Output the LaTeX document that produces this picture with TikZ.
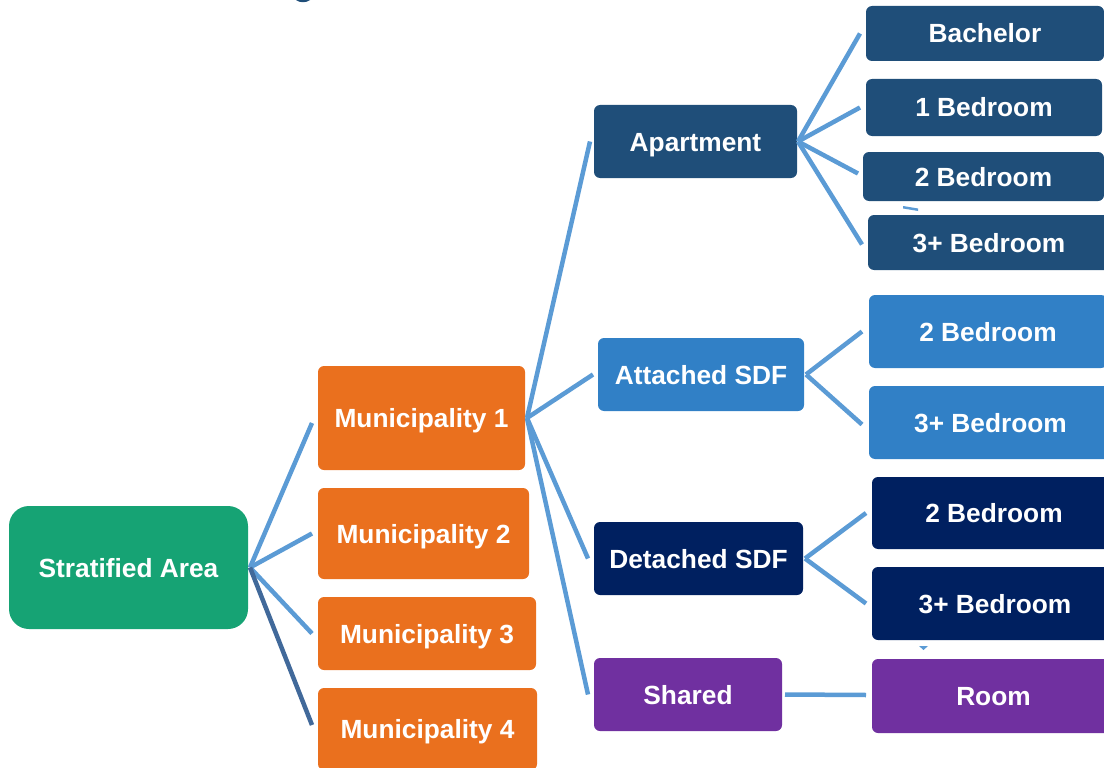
\documentclass[tikz,border=0pt]{standalone}
\usepackage{fontspec}
\setmainfont{Liberation Sans}
\definecolor{cgreen}{HTML}{16A374}
\definecolor{corange}{HTML}{EA701E}
\definecolor{capt}{HTML}{1F4E79}
\definecolor{catt}{HTML}{3180C6}
\definecolor{cdet}{HTML}{002060}
\definecolor{cpur}{HTML}{7030A0}
\definecolor{clink}{HTML}{5B9BD5}
\definecolor{cdark}{HTML}{41699A}
\tikzset{
  box/.style={rectangle, rounded corners=6pt, inner sep=0pt, outer sep=0pt, text=white,
    font=\fontsize{26.3}{30}\selectfont\bfseries, text height=22pt, text depth=3pt},
  link/.style={draw=clink, line width=4.5pt},
  darklink/.style={draw=cdark, line width=4.5pt},
}
\begin{document}
\begin{tikzpicture}[x=1pt,y=-1pt]
\useasboundingbox (0,0) rectangle (1104,768);
% nodes
\node[box, fill=cgreen, rounded corners=20pt, minimum width=239pt, minimum height=123pt] (sa) at (128.5,567.5) {Stratified Area};
\node[box, fill=corange, minimum width=207pt, minimum height=104pt] (m1) at (421.5,418) {Municipality 1};
\node[box, fill=corange, minimum width=211pt, minimum height=91pt] (m2) at (423.5,533.5) {Municipality 2};
\node[box, fill=corange, minimum width=218pt, minimum height=73pt] (m3) at (427,633.5) {Municipality 3};
\node[box, fill=corange, minimum width=219pt, minimum height=82pt] (m4) at (427.5,729) {Municipality 4};
\node[box, fill=capt, minimum width=203pt, minimum height=73pt] (apt) at (695.5,141.5) {Apartment};
\node[box, fill=catt, minimum width=206pt, minimum height=73pt] (att) at (701,374.5) {Attached SDF};
\node[box, fill=cdet, minimum width=209pt, minimum height=73pt] (det) at (698.5,558.5) {Detached SDF};
\node[box, fill=cpur, minimum width=188pt, minimum height=73pt] (sh) at (688,694.5) {Shared};
\node[box, fill=capt, minimum width=238pt, minimum height=55pt] (bach) at (985,33.5) {Bachelor};
\node[box, fill=capt, minimum width=236pt, minimum height=57pt] (b1) at (984,107.5) {1 Bedroom};
\node[box, fill=capt, minimum width=241pt, minimum height=49pt] (b2) at (983.5,176.5) {2 Bedroom};
\node[box, fill=capt, minimum width=242pt, minimum height=55pt] (b3) at (989,242.5) {3+ Bedroom};
\node[box, fill=catt, minimum width=238pt, minimum height=73pt] (a2) at (988,331.5) {2 Bedroom};
\node[box, fill=catt, minimum width=243pt, minimum height=73pt] (a3) at (990.5,422.5) {3+ Bedroom};
\node[box, fill=cdet, minimum width=244pt, minimum height=72pt] (d2) at (994,513) {2 Bedroom};
\node[box, fill=cdet, minimum width=246pt, minimum height=73pt] (d3) at (995,603.5) {3+ Bedroom};
\node[box, fill=cpur, minimum width=243pt, minimum height=74pt] (room) at (993.5,696) {Room};
% connectors
\draw[link] ([xshift=2pt]sa.east) -- ([xshift=-6pt,yshift=-5pt]m1.west);
\draw[link] ([xshift=2pt]sa.east) -- ([xshift=-6pt]m2.west);
\draw[link] ([xshift=2pt]sa.east) -- ([xshift=-6pt]m3.west);
\draw[darklink] ([xshift=2pt]sa.east) -- ([xshift=-6pt,yshift=4pt]m4.west);
\draw[link] ([xshift=2pt]m1.east) -- ([xshift=-4pt]apt.west);
\draw[link] ([xshift=2pt]m1.east) -- ([xshift=-5pt]att.west);
\draw[link] ([xshift=2pt]m1.east) -- ([xshift=-6pt]det.west);
\draw[link] ([xshift=2pt]m1.east) -- ([xshift=-6pt]sh.west);
\draw[link] ([xshift=1pt]apt.east) -- ([xshift=-6pt]bach.west);
\draw[link] ([xshift=1pt]apt.east) -- ([xshift=-6pt]b1.west);
\draw[link] ([xshift=1pt]apt.east) -- ([xshift=-5pt,yshift=3pt]b2.west);
\draw[link] ([xshift=1pt]apt.east) -- ([xshift=-6pt,yshift=-2pt]b3.west);
\draw[link] ([xshift=2pt]att.east) -- ([xshift=-7pt]a2.west);
\draw[link] ([xshift=2pt]att.east) -- ([xshift=-7pt,yshift=-2pt]a3.west);
\draw[link] ([xshift=2pt]det.east) -- ([xshift=-6pt]d2.west);
\draw[link] ([xshift=2pt]det.east) -- ([xshift=-6pt]d3.west);
\draw[link] ([xshift=3pt]sh.east) -- ([xshift=-6pt,yshift=1pt]room.west);
% small fragments
\fill[clink] (903,206) -- (918,208.5) -- (918,211) -- (903,208.5) -- cycle;
\fill[clink] (919,646) -- (928,646) -- (923.5,650) -- cycle;
\fill[capt] (296,0) -- (310,0) .. controls (306,3) and (300,3) .. (296,0) -- cycle;
\end{tikzpicture}
\end{document}
